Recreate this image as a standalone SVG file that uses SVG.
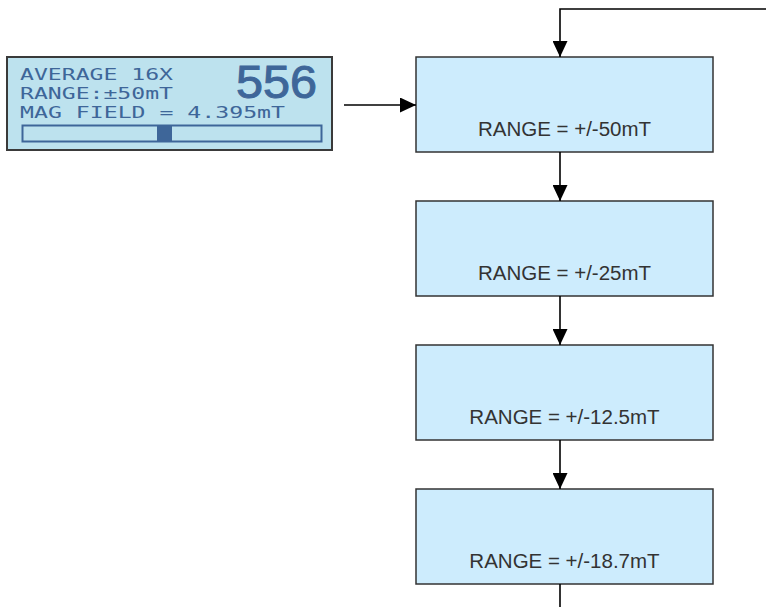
<svg xmlns="http://www.w3.org/2000/svg" width="766" height="607" viewBox="0 0 766 607">
<defs>
<marker id="ah" markerWidth="16" markerHeight="15" refX="16" refY="7.5" orient="auto" markerUnits="userSpaceOnUse">
<path d="M0,0 L16,7.5 L0,15 Z" fill="#000"/>
</marker>
<style>
.box{fill:#cdecfd;stroke:#333;stroke-width:1.5}
.lbl{font-family:"Liberation Sans",Arial,sans-serif;font-size:20.5px;fill:#333;text-anchor:middle}
.con{fill:none;stroke:#000;stroke-width:1.6}
.lcd{font-family:"DejaVu Sans Mono","Liberation Mono",monospace;font-size:16.5px;fill:#3e6699}
</style>
</defs>
<rect width="766" height="607" fill="#fff"/>
<g id="lcd">
<rect x="7" y="57" width="325" height="93" fill="#bde2ee" stroke="#3a3a3a" stroke-width="2"/>
<text class="lcd" x="20" y="80" textLength="153" lengthAdjust="spacingAndGlyphs">AVERAGE 16X</text>
<text class="lcd" x="20" y="99" textLength="153" lengthAdjust="spacingAndGlyphs">RANGE:±50mT</text>
<text class="lcd" x="20" y="118" textLength="265" lengthAdjust="spacingAndGlyphs">MAG FIELD = 4.395mT</text>
<text x="236" y="98" font-family="'Liberation Sans',Arial,sans-serif" font-size="46" fill="#3e6699" stroke="#3e6699" stroke-width="1" textLength="81" lengthAdjust="spacingAndGlyphs">556</text>
<rect x="22.5" y="125.5" width="299" height="16" fill="none" stroke="#3e6699" stroke-width="2"/>
<rect x="157" y="125" width="15" height="17" fill="#3e6699"/>
</g>
<g id="n1">
<rect class="box" x="416" y="57" width="297" height="95"/>
<text class="lbl" x="564.5" y="136">RANGE = +/-50mT</text>
</g>
<g id="n2">
<rect class="box" x="416" y="201" width="297" height="95"/>
<text class="lbl" x="564.5" y="280">RANGE = +/-25mT</text>
</g>
<g id="n3">
<rect class="box" x="416" y="345" width="297" height="95"/>
<text class="lbl" x="564.5" y="424">RANGE = +/-12.5mT</text>
</g>
<g id="n4">
<rect class="box" x="416" y="489" width="297" height="95"/>
<text class="lbl" x="564.5" y="568">RANGE = +/-18.7mT</text>
</g>
<g id="connectors">
<path class="con" d="M766,9 H560 V57" marker-end="url(#ah)"/>
<path class="con" d="M344,105 H416" marker-end="url(#ah)"/>
<path class="con" d="M560,152 V201" marker-end="url(#ah)"/>
<path class="con" d="M560,296 V345" marker-end="url(#ah)"/>
<path class="con" d="M560,440 V489" marker-end="url(#ah)"/>
<path class="con" d="M560,584 V607"/>
</g>
</svg>
